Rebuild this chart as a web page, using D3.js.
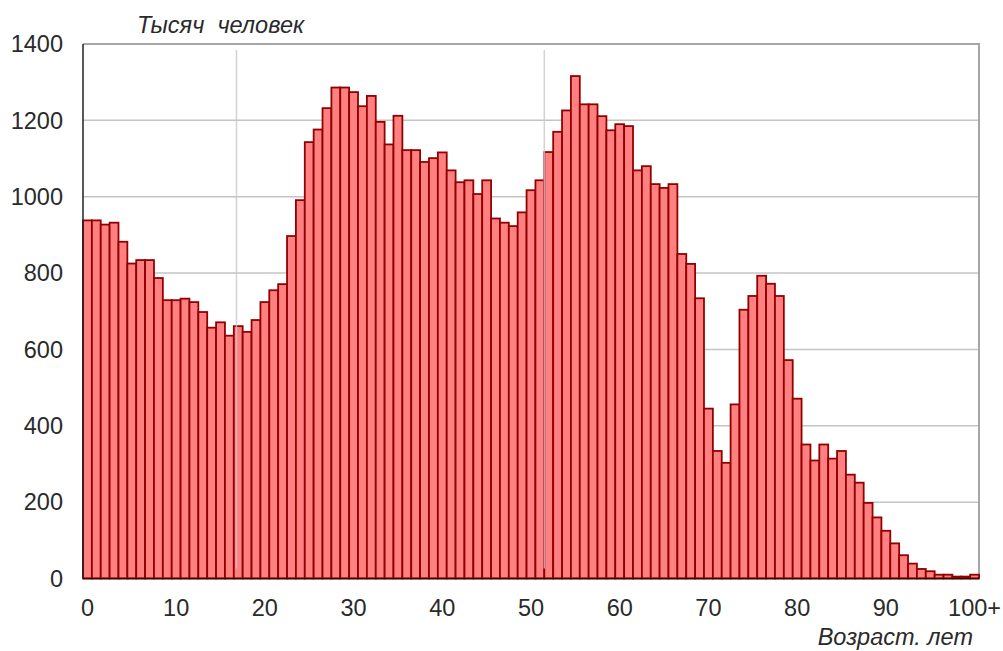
<!DOCTYPE html>
<html>
<head>
<meta charset="utf-8">
<script src="https://cdn.jsdelivr.net/npm/d3@7"></script>
<style>
  body { margin: 0; background: #fff; }
  text { font-family: "Liberation Sans", Arial, sans-serif; fill: #2a2a2a; white-space: pre; }
</style>
</head>
<body>
<svg id="chart" width="1003" height="651"></svg>
<script>
// population by single year of age, thousands (last bar = 100+)
var ages = d3.range(0, 101);
var population = [
  938, 938, 927, 932, 882, 825, 834, 834, 787, 729,
  729, 733, 724, 698, 657, 671, 636, 661, 646, 677,
  724, 755, 771, 897, 991, 1143, 1176, 1232, 1286, 1286,
  1274, 1237, 1264, 1196, 1137, 1212, 1122, 1122, 1091, 1101,
  1116, 1069, 1038, 1043, 1007, 1043, 943, 932, 923, 959,
  1017, 1043, 1117, 1170, 1226, 1316, 1242, 1242, 1211, 1174,
  1190, 1185, 1069, 1080, 1033, 1023, 1033, 850, 824, 734,
  445, 334, 303, 456, 704, 740, 793, 772, 740, 572,
  471, 351, 309, 351, 314, 334, 272, 251, 198, 160,
  125, 92, 61, 39, 25, 19, 10, 10, 5, 5,
  10
];
var xTicks = [0, 10, 20, 30, 40, 50, 60, 70, 80, 90, 100];
var xTickLabels = ["0", "10", "20", "30", "40", "50", "60", "70", "80", "90", "100+"];
var yTicks = [0, 200, 400, 600, 800, 1000, 1200, 1400];
var markerAges = [17.3, 52];   // the two vertical reference lines

(function() {
  var svg = d3.select("#chart");
  var plotLeft = 83, plotRight = 979, plotTop = 44, plotBottom = 578.5;

  var x = d3.scaleBand().domain(ages).range([plotLeft, plotRight]).padding(0);
  var xLin = d3.scaleLinear().domain([0, ages.length]).range([plotLeft, plotRight]);
  var y = d3.scaleLinear().domain([0, 1400]).range([plotBottom, plotTop]);

  // horizontal grid
  svg.append("g")
    .selectAll("line")
    .data(yTicks.filter(function(d) { return d > 0 && d < 1400; }))
    .enter().append("line")
    .attr("x1", plotLeft).attr("x2", plotRight)
    .attr("y1", function(d) { return y(d); })
    .attr("y2", function(d) { return y(d); })
    .attr("stroke", "#c4c4c4")
    .attr("stroke-width", 1.5);

  // frame top + right
  svg.append("path")
    .attr("d", "M" + plotLeft + "," + y(1400) + "H" + plotRight + "V" + plotBottom)
    .attr("fill", "none")
    .attr("stroke", "#a6a6a6")
    .attr("stroke-width", 2);

  // bars
  svg.append("g")
    .selectAll("rect")
    .data(population)
    .enter().append("rect")
    .attr("x", function(d, i) { return x(ages[i]); })
    .attr("width", x.bandwidth())
    .attr("y", function(d) { return y(d); })
    .attr("height", function(d) { return plotBottom - y(d); })
    .attr("fill", "#ff8080")
    .attr("stroke", "#920000")
    .attr("stroke-width", 1.8);

  // vertical reference lines, over the bars
  svg.append("g")
    .selectAll("line")
    .data(markerAges)
    .enter().append("line")
    .attr("x1", function(d) { return xLin(d); })
    .attr("x2", function(d) { return xLin(d); })
    .attr("y1", plotTop + 6).attr("y2", plotBottom - 10)
    .attr("stroke", "#c8c8c8")
    .attr("stroke-opacity", 0.8)
    .attr("stroke-width", 1.5);

  // axis lines
  svg.append("line")
    .attr("x1", plotLeft).attr("x2", plotLeft)
    .attr("y1", y(1400)).attr("y2", plotBottom)
    .attr("stroke", "#222").attr("stroke-width", 1.5);
  svg.append("line")
    .attr("x1", plotLeft).attr("x2", plotRight)
    .attr("y1", plotBottom).attr("y2", plotBottom)
    .attr("stroke", "#3a0000").attr("stroke-width", 1.5);

  // y labels
  svg.append("g")
    .selectAll("text")
    .data(yTicks)
    .enter().append("text")
    .attr("x", 63)
    .attr("y", function(d) { return y(d); })
    .attr("dy", "0.35em")
    .attr("text-anchor", "end")
    .style("font-size", "23.5px")
    .text(function(d) { return d; });

  // x labels
  svg.append("g")
    .selectAll("text")
    .data(xTicks)
    .enter().append("text")
    .attr("x", function(d) { return x(d) + x.bandwidth() / 2; })
    .attr("y", 608)
    .attr("dy", "0.35em")
    .attr("text-anchor", "middle")
    .style("font-size", "23.5px")
    .text(function(d, i) { return xTickLabels[i]; });

  // axis titles
  svg.append("text")
    .attr("x", 137).attr("y", 33)
    .style("font-size", "23.5px")
    .style("font-style", "italic")
    .text("Тысяч  человек");

  svg.append("text")
    .attr("x", 973).attr("y", 645)
    .attr("text-anchor", "end")
    .style("font-size", "23.5px")
    .style("font-style", "italic")
    .text("Возраст. лет");
})();
</script>
</body>
</html>
